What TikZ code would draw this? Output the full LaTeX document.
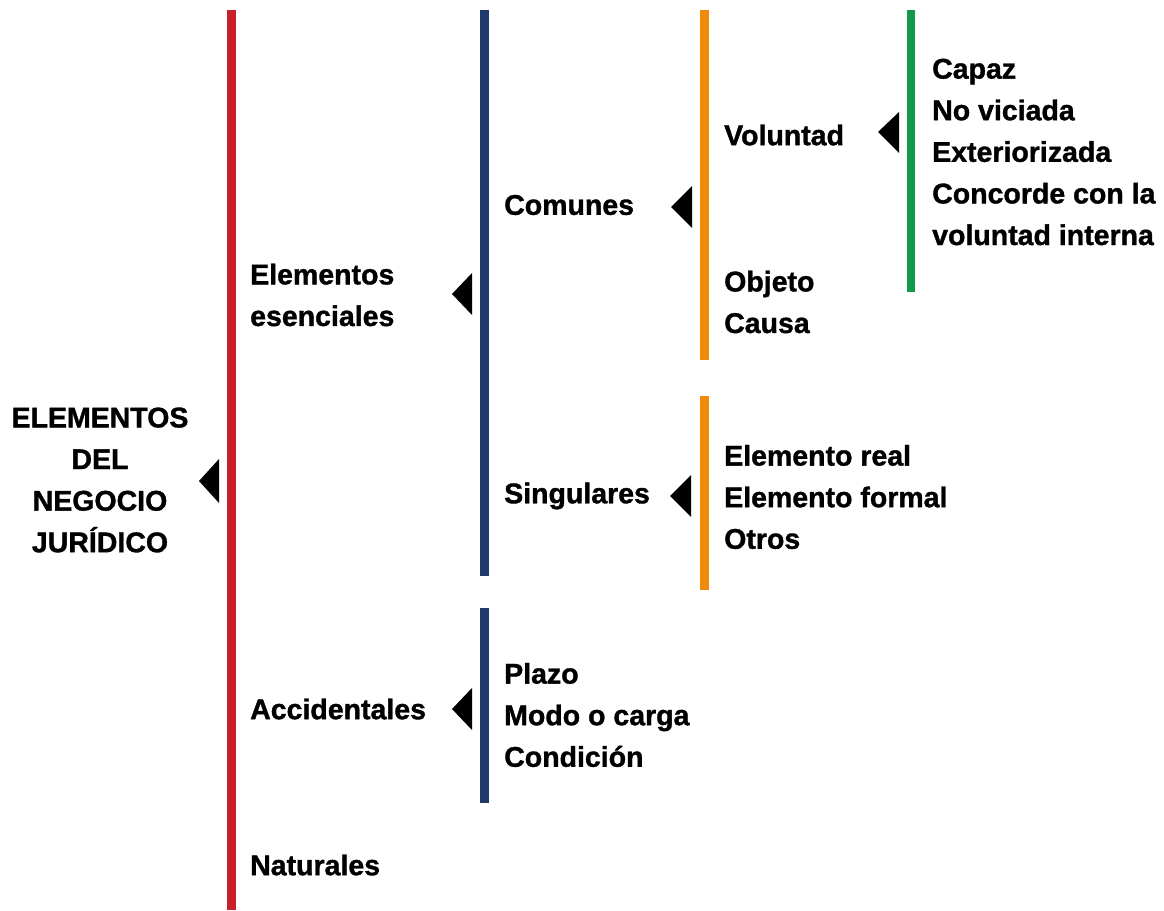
\documentclass[tikz,border=0pt]{standalone}
\usepackage{fontspec}
\setmainfont{Liberation Sans}[BoldFeatures={FakeBold=1.2}]
\definecolor{cred}{HTML}{C8202A}
\definecolor{cblue}{HTML}{1F3B6B}
\definecolor{corange}{HTML}{F18A0B}
\definecolor{cgreen}{HTML}{12994A}
\begin{document}
\begin{tikzpicture}[x=1pt,y=-1pt,
  bar/.style={line width=8.5pt},
  tri/.style={fill=black},
  lbl/.style={font=\bfseries\fontsize{28.5}{41.6}\selectfont, inner sep=0pt, align=left, anchor=west}]
\useasboundingbox (0,0) rectangle (1164,910);
% bars
\draw[bar,cred] (231.5,10) -- (231.5,910);
\draw[bar,cblue] (484.5,10) -- (484.5,576);
\draw[bar,cblue] (484.5,608) -- (484.5,803);
\draw[bar,corange] (704.5,10) -- (704.5,360);
\draw[bar,corange] (704.5,396) -- (704.5,590);
\draw[bar,cgreen] (911,10) -- (911,292);
% triangles
\fill[tri] (199,481) -- (219,459) -- (219,503) -- cycle;
\fill[tri] (452,294) -- (472,273) -- (472,315) -- cycle;
\fill[tri] (452,709) -- (472,688) -- (472,730) -- cycle;
\fill[tri] (671,207) -- (692,186) -- (692,228) -- cycle;
\fill[tri] (670,496) -- (691,475) -- (691,517) -- cycle;
\fill[tri] (878,132) -- (899,112) -- (899,153) -- cycle;
% texts
\node[lbl, align=center, anchor=center] (root) at (100,480) {ELEMENTOS\\DEL\\NEGOCIO\\JURÍDICO};
\node[lbl] (esen) at (250,295) {Elementos\\esenciales};
\node[lbl] (acc) at (250,709) {Accidentales};
\node[lbl] (nat) at (250,865) {Naturales};
\node[lbl] (com) at (504,205) {Comunes};
\node[lbl] (sing) at (504,496) {Singulares};
\node[lbl] (accl) at (504,715) {Plazo\\Modo o carga\\Condición};
\node[lbl] (vol) at (724,135) {Voluntad};
\node[lbl] (obj) at (724,302) {Objeto\\Causa};
\node[lbl] (singl) at (724,497) {Elemento real\\Elemento formal\\Otros};
\node[lbl] (voll) at (932,152) {Capaz\\No viciada\\Exteriorizada\\Concorde con la\\voluntad interna};
\end{tikzpicture}
\end{document}
